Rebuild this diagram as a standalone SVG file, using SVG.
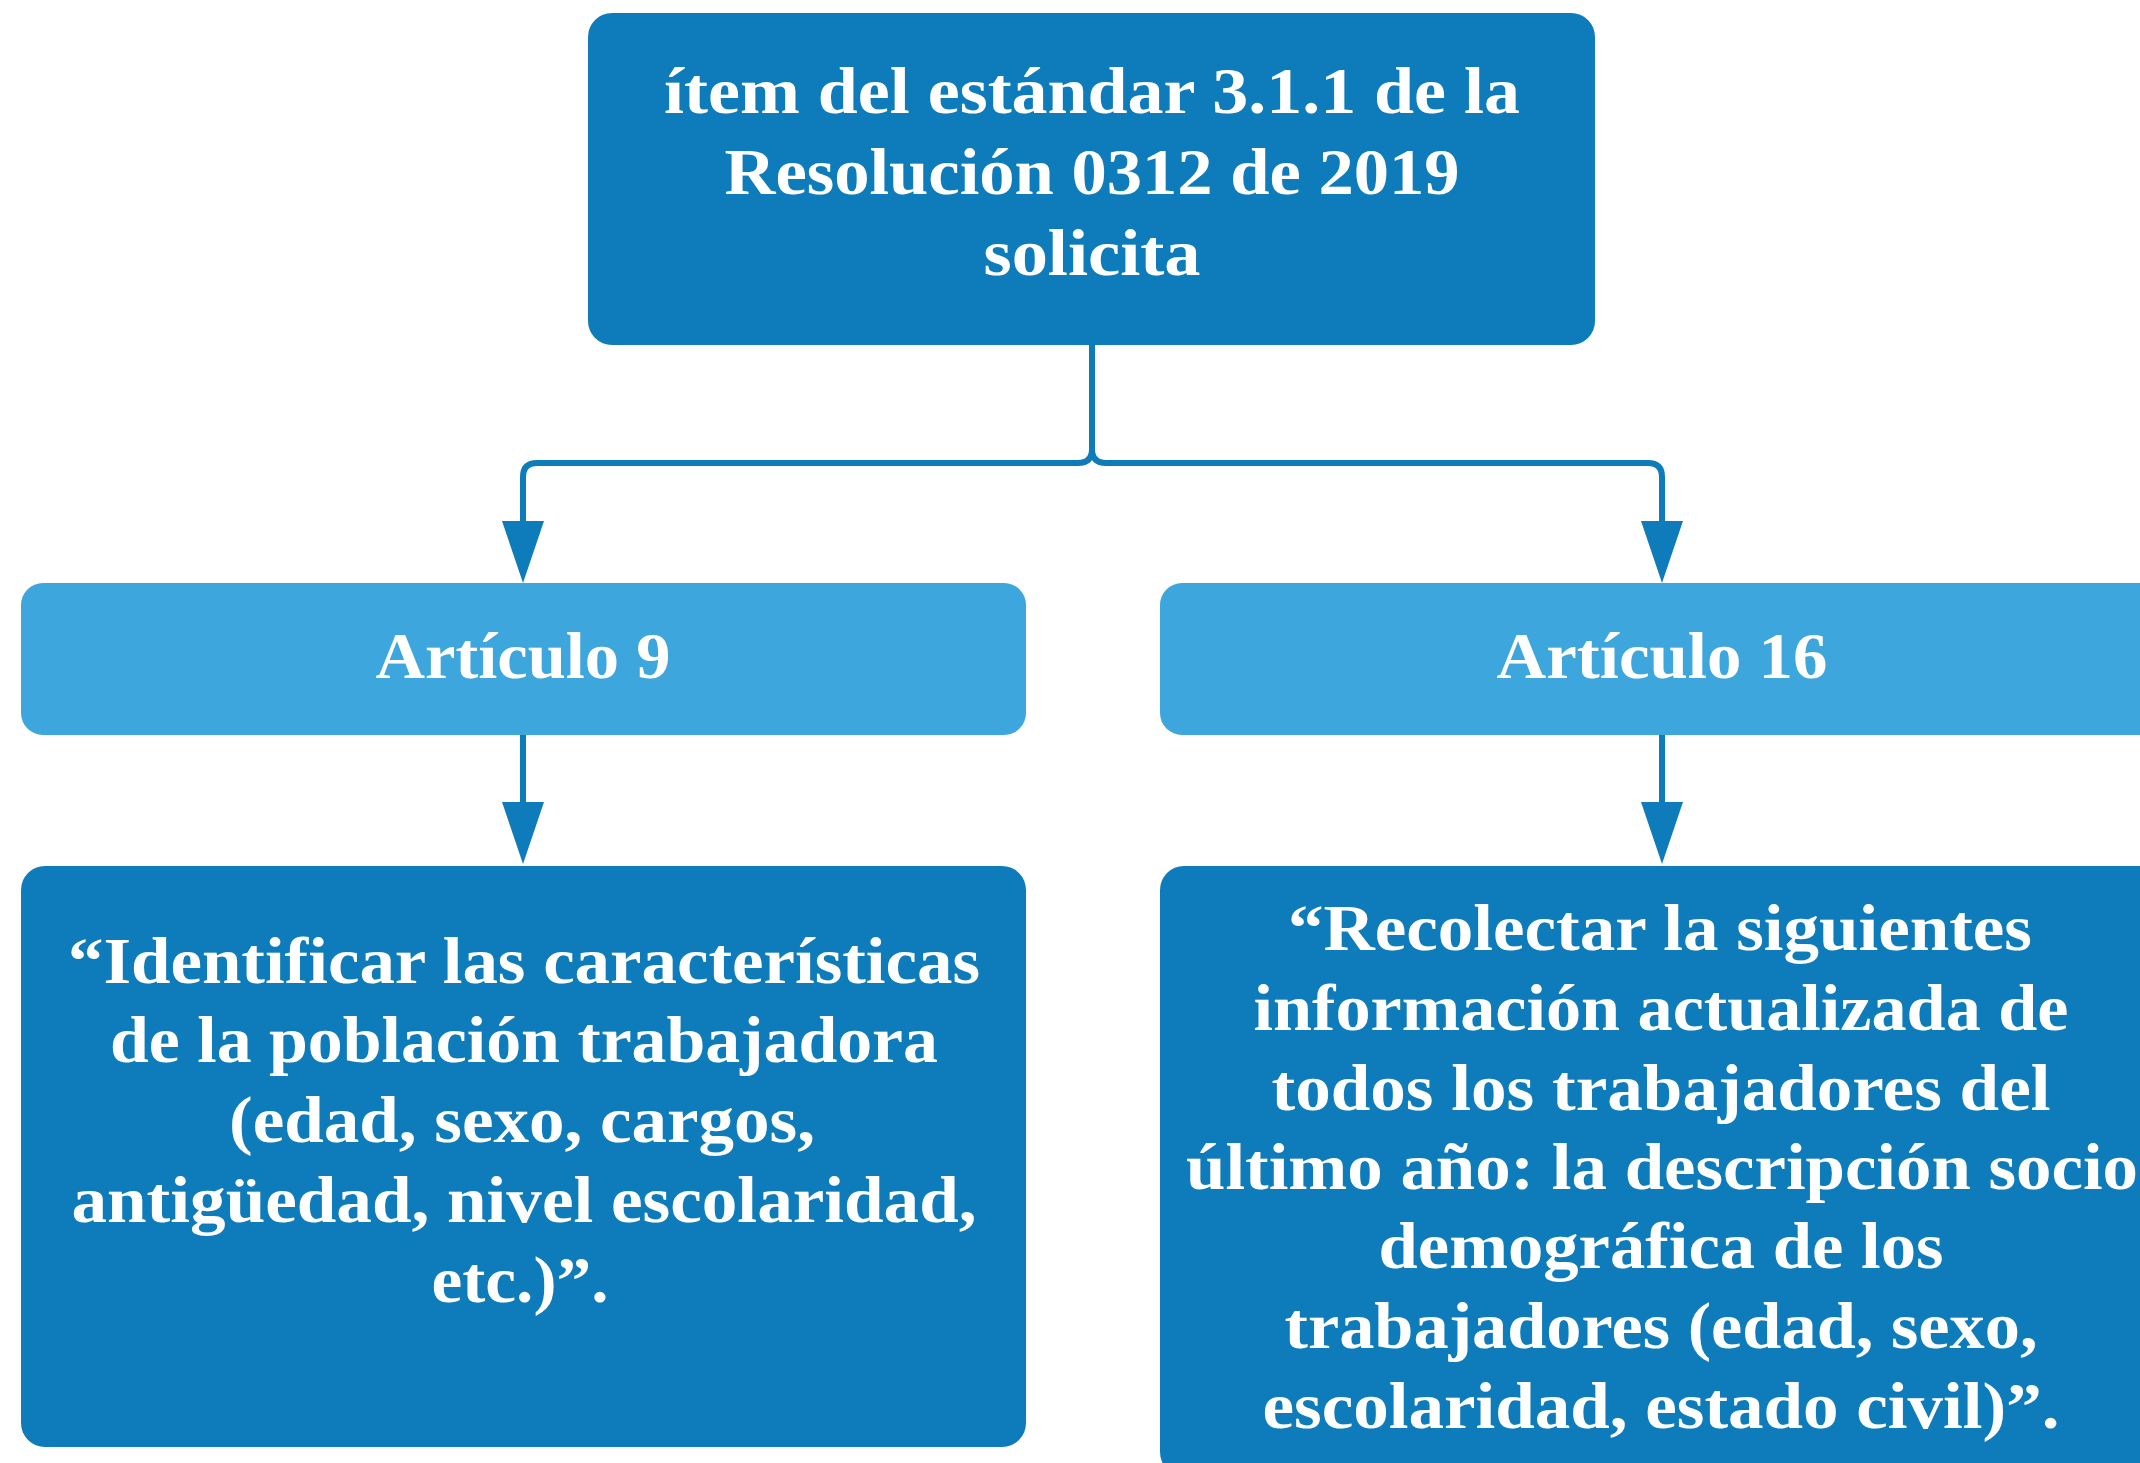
<svg xmlns="http://www.w3.org/2000/svg" width="2140" height="1463" viewBox="0 0 2140 1463">
  <style>
    .dark { fill: #0E7CBA; }
    .light { fill: #3DA6DD; }
    .t { font-family: "Liberation Serif", "DejaVu Serif", serif; font-weight: bold; font-size: 65px; fill: #FFFFFF; text-anchor: middle; }
    .conn { fill: none; stroke: #0E7CBA; stroke-width: 6; }
  </style>
  <defs>
    <marker id="arrow" markerUnits="userSpaceOnUse" viewBox="0 0 62 42" refX="0" refY="21" markerWidth="62" markerHeight="42" orient="auto">
      <path d="M0,0 L62,21 L0,42 Z" fill="#0E7CBA"/>
    </marker>
  </defs>
  <rect width="2140" height="1463" fill="#FFFFFF"/>

  <g id="connectors">
    <path class="conn" d="M1092,345 V449 Q1092,463 1078,463 H537 Q523,463 523,477 V521" marker-end="url(#arrow)"/>
    <path class="conn" d="M1092,345 V449 Q1092,463 1106,463 H1648 Q1662,463 1662,477 V521" marker-end="url(#arrow)"/>
    <path class="conn" d="M523,735 V802" marker-end="url(#arrow)"/>
    <path class="conn" d="M1662,735 V802" marker-end="url(#arrow)"/>
  </g>

  <g id="node-top">
    <rect class="dark" x="588" y="13" width="1007" height="332" rx="24" ry="24"/>
    <text class="t" x="1092" y="113" textLength="856" lengthAdjust="spacingAndGlyphs">ítem del estándar 3.1.1 de la</text>
    <text class="t" x="1092" y="194" textLength="735" lengthAdjust="spacingAndGlyphs">Resolución 0312 de 2019</text>
    <text class="t" x="1092" y="275" textLength="217" lengthAdjust="spacingAndGlyphs">solicita</text>
  </g>

  <g id="node-art9">
    <rect class="light" x="21" y="583" width="1005" height="152" rx="22" ry="22"/>
    <text class="t" x="523" y="678" textLength="295" lengthAdjust="spacingAndGlyphs">Artículo 9</text>
  </g>

  <g id="node-art16">
    <rect class="light" x="1160" y="583" width="1005" height="152" rx="22" ry="22"/>
    <text class="t" x="1662" y="678" textLength="331" lengthAdjust="spacingAndGlyphs">Artículo 16</text>
  </g>

  <g id="node-art9-text">
    <rect class="dark" x="21" y="866" width="1005" height="581" rx="24" ry="24"/>
    <text class="t" x="524" y="983" textLength="912" lengthAdjust="spacingAndGlyphs">“Identificar las características</text>
    <text class="t" x="524" y="1062" textLength="828" lengthAdjust="spacingAndGlyphs">de la población trabajadora</text>
    <text class="t" x="522" y="1142" textLength="586" lengthAdjust="spacingAndGlyphs">(edad, sexo, cargos,</text>
    <text class="t" x="524" y="1222" textLength="905" lengthAdjust="spacingAndGlyphs">antigüedad, nivel escolaridad,</text>
    <text class="t" x="520" y="1302" textLength="177" lengthAdjust="spacingAndGlyphs">etc.)”.</text>
  </g>

  <g id="node-art16-text">
    <rect class="dark" x="1160" y="866" width="1005" height="610" rx="24" ry="24"/>
    <text class="t" x="1660" y="950" textLength="744" lengthAdjust="spacingAndGlyphs">“Recolectar la siguientes</text>
    <text class="t" x="1661" y="1030" textLength="815" lengthAdjust="spacingAndGlyphs">información actualizada de</text>
    <text class="t" x="1661" y="1110" textLength="779" lengthAdjust="spacingAndGlyphs">todos los trabajadores del</text>
    <text class="t" x="1662" y="1189" textLength="952" lengthAdjust="spacingAndGlyphs">último año: la descripción socio</text>
    <text class="t" x="1661" y="1268" textLength="565" lengthAdjust="spacingAndGlyphs">demográfica de los</text>
    <text class="t" x="1661" y="1348" textLength="753" lengthAdjust="spacingAndGlyphs">trabajadores (edad, sexo,</text>
    <text class="t" x="1661" y="1428" textLength="797" lengthAdjust="spacingAndGlyphs">escolaridad, estado civil)”.</text>
  </g>
</svg>
